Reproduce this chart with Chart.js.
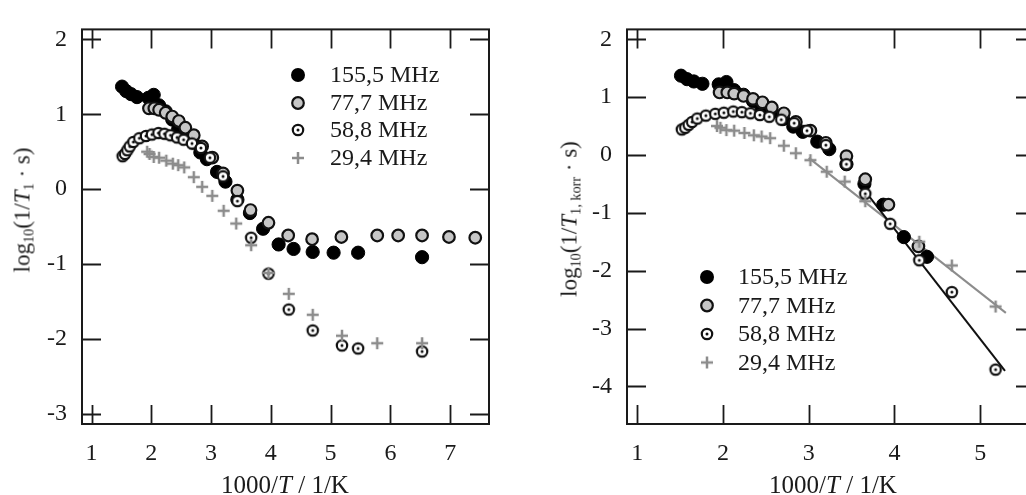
<!DOCTYPE html>
<html lang="de">
<head>
<meta charset="utf-8">
<title>Relaxationsraten</title>
<script src="https://cdn.jsdelivr.net/npm/chart.js@4.4.1/dist/chart.umd.min.js"></script>
<style>
    body { margin: 0; width: 1026px; height: 495px; overflow: hidden; position: relative; background: #fff; }
    canvas { position: absolute; top: 0; }
    .titre { position: absolute; font-family: "Liberation Serif", serif; color: #1a1a1a; white-space: nowrap; line-height: 1; }
    .titre sub { font-size: 0.62em; vertical-align: -0.25em; line-height: 0; }
    .ytitre { font-size: 23px; transform: translate(-50%, -50%) rotate(-90deg); }
    .xtitre { font-size: 25px; transform: translateX(-50%); }
</style>
</head>
<body>
<canvas id="gauche" width="513" height="495" style="left:0"></canvas>
<canvas id="droite" width="530" height="495" style="left:513px"></canvas>
<div class="titre ytitre" style="left:22px;top:210px">log<sub>10</sub>(1/<i>T</i><sub>1</sub> · s)</div>
<div class="titre ytitre" style="left:569px;top:219px">log<sub>10</sub>(1/<i>T</i><sub>1, korr</sub> · s)</div>
<div class="titre xtitre" style="left:285px;top:472px">1000/<i>T</i> / 1/K</div>
<div class="titre xtitre" style="left:833px;top:472px">1000/<i>T</i> / 1/K</div>
<script>
// Données
const seriesLabels = ['155,5 MHz', '77,7 MHz', '58,8 MHz', '29,4 MHz'];

// Panneau gauche : log10(1/T1 · s)
const left155x = [1.51, 1.58, 1.66, 1.76, 1.95, 2.04, 2.13, 2.24, 2.35, 2.45, 2.57, 2.70, 2.82, 2.93, 3.10, 3.24, 3.44, 3.65, 3.87, 4.13, 4.38, 4.70, 5.05, 5.46, 6.53];
const left155y = [1.37, 1.31, 1.27, 1.23, 1.22, 1.26, 1.12, 1.04, 0.93, 0.80, 0.74, 0.62, 0.49, 0.40, 0.23, 0.10, -0.14, -0.32, -0.53, -0.74, -0.80, -0.84, -0.85, -0.85, -0.91];
const left77x = [1.96, 2.05, 2.13, 2.24, 2.35, 2.46, 2.57, 2.71, 2.85, 3.02, 3.20, 3.44, 3.66, 3.96, 4.29, 4.69, 5.18, 5.78, 6.13, 6.53, 6.98, 7.42];
const left77y = [1.08, 1.08, 1.06, 1.02, 0.97, 0.91, 0.82, 0.72, 0.57, 0.42, 0.21, -0.02, -0.28, -0.45, -0.62, -0.67, -0.64, -0.62, -0.62, -0.62, -0.64, -0.65];
const left58x = [1.52, 1.56, 1.60, 1.64, 1.70, 1.80, 1.91, 2.01, 2.12, 2.22, 2.32, 2.43, 2.54, 2.68, 2.83, 2.98, 3.20, 3.44, 3.67, 3.96, 4.30, 4.70, 5.19, 5.46, 6.53];
const left58y = [0.44, 0.47, 0.52, 0.57, 0.63, 0.68, 0.71, 0.73, 0.75, 0.74, 0.72, 0.69, 0.66, 0.61, 0.55, 0.42, 0.17, -0.16, -0.65, -1.13, -1.61, -1.89, -2.09, -2.13, -2.17];
const left29x = [1.93, 1.97, 2.04, 2.13, 2.25, 2.36, 2.45, 2.55, 2.71, 2.85, 3.02, 3.21, 3.42, 3.67, 3.96, 4.30, 4.70, 5.19, 5.78, 6.53];
const left29y = [0.50, 0.47, 0.43, 0.42, 0.38, 0.34, 0.32, 0.29, 0.16, 0.03, -0.09, -0.29, -0.46, -0.75, -1.12, -1.40, -1.68, -1.96, -2.06, -2.06];

// Panneau droit : log10(1/T1,korr · s)
const right155x = [1.51, 1.58, 1.66, 1.76, 1.95, 2.04, 2.13, 2.24, 2.35, 2.45, 2.57, 2.70, 2.82, 2.93, 3.10, 3.24, 3.44, 3.65, 3.87, 4.11, 4.38];
const right155y = [1.37, 1.31, 1.27, 1.23, 1.22, 1.26, 1.12, 1.04, 0.93, 0.80, 0.74, 0.62, 0.49, 0.40, 0.23, 0.10, -0.16, -0.50, -0.86, -1.42, -1.76];
const right77x = [1.96, 2.05, 2.13, 2.24, 2.35, 2.46, 2.57, 2.71, 2.85, 3.02, 3.20, 3.44, 3.66, 3.93, 4.28];
const right77y = [1.08, 1.08, 1.06, 1.02, 0.97, 0.91, 0.82, 0.72, 0.57, 0.42, 0.21, -0.02, -0.42, -0.86, -1.58];
const right58x = [1.52, 1.56, 1.60, 1.64, 1.70, 1.80, 1.91, 2.01, 2.12, 2.22, 2.32, 2.43, 2.54, 2.68, 2.83, 2.98, 3.20, 3.44, 3.66, 3.95, 4.29, 4.67, 5.18];
const right58y = [0.44, 0.47, 0.52, 0.57, 0.63, 0.68, 0.71, 0.73, 0.75, 0.74, 0.72, 0.69, 0.66, 0.61, 0.55, 0.42, 0.17, -0.16, -0.67, -1.19, -1.82, -2.37, -3.71];
const right29x = [1.93, 1.97, 2.04, 2.13, 2.25, 2.36, 2.45, 2.55, 2.71, 2.85, 3.02, 3.21, 3.42, 3.66, 4.29, 4.67, 5.18];
const right29y = [0.50, 0.47, 0.43, 0.42, 0.38, 0.34, 0.32, 0.29, 0.16, 0.03, -0.09, -0.29, -0.46, -0.80, -1.50, -1.91, -2.62];

// Droites d'ajustement (panneau droit)
const fitGrayX = [3.00, 5.30];
const fitGrayY = [-0.05, -2.73];
const fitBlackX = [3.68, 5.29];
const fitBlackY = [-0.67, -3.73];

// Fonctions utilitaires
function zip(xs, ys) {
    return xs.map((x, i) => ({ x: x, y: ys[i] }));
}

function makeTarget() {
    const c = document.createElement('canvas');
    c.width = 16; c.height = 16;
    const g = c.getContext('2d');
    g.beginPath();
    g.arc(8, 8, 5.2, 0, 2 * Math.PI);
    g.fillStyle = '#fff';
    g.fill();
    g.lineWidth = 2.2;
    g.strokeStyle = '#111';
    g.stroke();
    g.beginPath();
    g.arc(8, 8, 1.5, 0, 2 * Math.PI);
    g.fillStyle = '#111';
    g.fill();
    return c;
}

function makePlus() {
    const c = document.createElement('canvas');
    c.width = 16; c.height = 16;
    const g = c.getContext('2d');
    g.strokeStyle = '#8c8c8c';
    g.lineWidth = 2.5;
    g.beginPath();
    g.moveTo(2, 8); g.lineTo(14, 8);
    g.moveTo(8, 2); g.lineTo(8, 14);
    g.stroke();
    return c;
}

const targetImg = makeTarget();
const plusImg = makePlus();
const tickFont = { family: '"Liberation Serif", serif', size: 24 };

function pointSets(d155, d77, d58, d29) {
    return [
        { label: seriesLabels[0], data: d155, order: 3, pointStyle: 'circle', pointRadius: 6.6, backgroundColor: '#000', borderColor: '#000', borderWidth: 1 },
        { label: seriesLabels[1], data: d77, order: 2, pointStyle: 'circle', pointRadius: 5.8, backgroundColor: '#c6c6c6', borderColor: '#111', borderWidth: 2.2 },
        { label: seriesLabels[2], data: d58, order: 1, pointStyle: targetImg, pointRadius: 6 },
        { label: seriesLabels[3], data: d29, order: 0, pointStyle: plusImg, pointRadius: 6 }
    ];
}

// Cadre et graduations intérieures sur les quatre côtés
const cadrePlugin = {
    id: 'cadre',
    beforeDatasetsDraw(chart) {
        const ctx = chart.ctx;
        const a = chart.chartArea;
        const len = 19;
        ctx.save();
        ctx.strokeStyle = '#1a1a1a';
        ctx.lineWidth = 2;
        ctx.strokeRect(a.left, a.top, a.right - a.left, a.bottom - a.top);
        ctx.lineWidth = 1.8;
        ctx.beginPath();
        chart.scales.x.ticks.forEach(t => {
            const px = Math.round(chart.scales.x.getPixelForValue(t.value)) + 0.5;
            ctx.moveTo(px, a.bottom); ctx.lineTo(px, a.bottom - len);
            ctx.moveTo(px, a.top); ctx.lineTo(px, a.top + len);
        });
        chart.scales.y.ticks.forEach(t => {
            const py = Math.round(chart.scales.y.getPixelForValue(t.value)) + 0.5;
            ctx.moveTo(a.left, py); ctx.lineTo(a.left + len, py);
            ctx.moveTo(a.right, py); ctx.lineTo(a.right - len, py);
        });
        ctx.stroke();
        ctx.restore();
    }
};

// Légende dessinée dans la zone du graphique
const legendePlugin = {
    id: 'legende',
    afterDraw(chart, args, opts) {
        const ctx = chart.ctx;
        ctx.save();
        ctx.font = '24px "Liberation Serif", serif';
        ctx.textBaseline = 'middle';
        seriesLabels.forEach((label, i) => {
            const y = opts.rows[i];
            const x = opts.markerX;
            if (i === 0) {
                ctx.beginPath(); ctx.arc(x, y, 7, 0, 2 * Math.PI); ctx.fillStyle = '#000'; ctx.fill();
            } else if (i === 1) {
                ctx.beginPath(); ctx.arc(x, y, 5.8, 0, 2 * Math.PI); ctx.fillStyle = '#c6c6c6'; ctx.fill();
                ctx.lineWidth = 2.2; ctx.strokeStyle = '#111'; ctx.stroke();
            } else if (i === 2) {
                ctx.drawImage(targetImg, x - 8, y - 8);
            } else {
                ctx.drawImage(plusImg, x - 8, y - 8);
            }
            ctx.fillStyle = '#1a1a1a';
            ctx.fillText(label, opts.textX, y + 1);
        });
        ctx.restore();
    }
};

function makeOptions(xMin, xMax, yMin, yMax, yWidth, padRight, legend) {
    return {
        responsive: false,
        animation: false,
        devicePixelRatio: 1,
        layout: { padding: { top: 15, right: padRight, bottom: 0, left: 0 } },
        plugins: {
            legend: { display: false },
            tooltip: { enabled: false },
            legende: legend
        },
        scales: {
            x: {
                type: 'linear', min: xMin, max: xMax,
                grid: { display: false, drawTicks: false },
                border: { display: false },
                ticks: { stepSize: 1, includeBounds: false, padding: 15, maxRotation: 0, font: tickFont, color: '#1a1a1a' },
                afterFit: s => { s.height = 71; }
            },
            y: {
                type: 'linear', min: yMin, max: yMax,
                grid: { display: false, drawTicks: false },
                border: { display: false },
                ticks: { stepSize: 1, includeBounds: false, padding: 15, font: tickFont, color: '#1a1a1a' },
                afterFit: s => { s.width = yWidth; }
            }
        }
    };
}

// Initialisation
document.addEventListener('DOMContentLoaded', () => {
    new Chart(document.getElementById('gauche'), {
        type: 'scatter',
        data: {
            datasets: pointSets(zip(left155x, left155y), zip(left77x, left77y), zip(left58x, left58y), zip(left29x, left29y))
        },
        options: makeOptions(0.84, 7.65, -3.14, 2.135, 82, 24, { markerX: 298, textX: 330, rows: [75, 103, 130, 158] }),
        plugins: [cadrePlugin, legendePlugin]
    });

    const droite = pointSets(zip(right155x, right155y), zip(right77x, right77y), zip(right58x, right58y), zip(right29x, right29y));
    droite.push({ type: 'line', data: zip(fitGrayX, fitGrayY), order: 5, showLine: true, pointRadius: 0, borderColor: '#8c8c8c', borderWidth: 2 });
    droite.push({ type: 'line', data: zip(fitBlackX, fitBlackY), order: 4, showLine: true, pointRadius: 0, borderColor: '#111', borderWidth: 2 });

    new Chart(document.getElementById('droite'), {
        type: 'scatter',
        data: { datasets: droite },
        options: makeOptions(0.88, 5.64, -4.65, 2.17, 114, 6, { markerX: 194, textX: 225, rows: [277, 305.5, 334, 362.5] }),
        plugins: [cadrePlugin, legendePlugin]
    });
});
</script>
</body>
</html>
